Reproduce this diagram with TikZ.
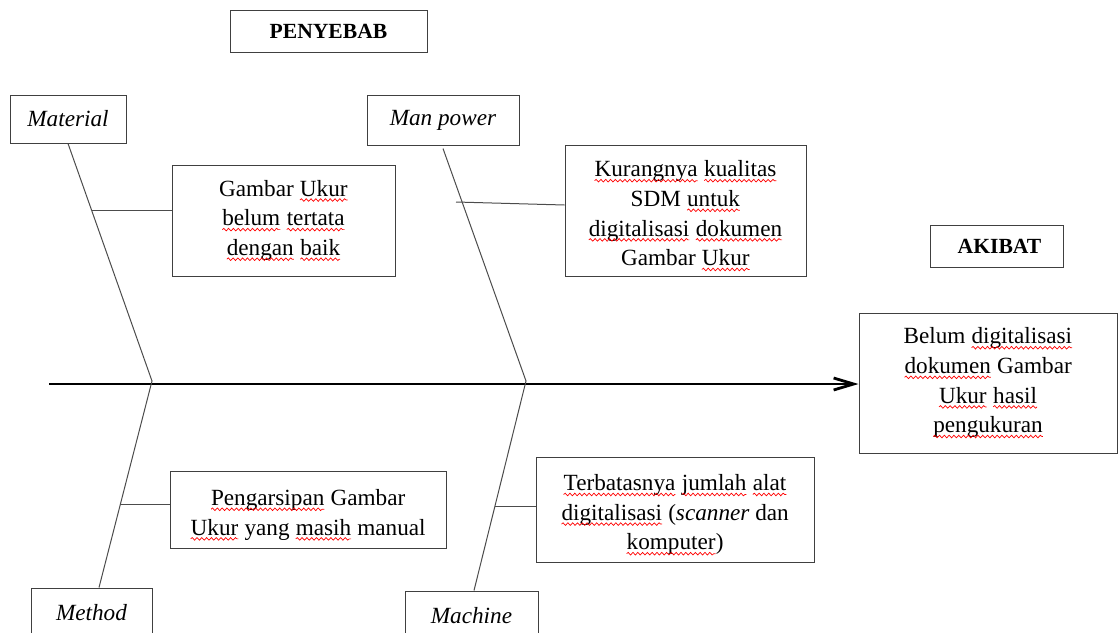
\documentclass[tikz,border=0pt]{standalone}
\usepackage{fontspec}
\setmainfont{Liberation Serif}
\usetikzlibrary{calc,positioning,arrows.meta,decorations.pathmorphing}

\newcommand{\sq}[1]{\tikz[baseline=(w.base)]{%
  \node[inner sep=0pt, outer sep=0pt, minimum size=0pt, draw=none, fill=none, anchor=base](w){#1};
  \draw[red, line width=0.35pt, decorate, decoration={snake, amplitude=0.65pt, segment length=2.4pt}]
    ([yshift=-1.9pt]w.base west) -- ([yshift=-1.9pt]w.base east);}}
\newcommand{\dn}{\rule{0pt}{13.5pt}}

\begin{document}
\begin{tikzpicture}[x=0.5pt, y=-0.5pt,
  box/.style={draw=black!75, line width=0.5pt, inner sep=0pt, align=center,
    font=\fontsize{11.6}{14.8}\selectfont},
  title/.style={box, font=\fontsize{10.8}{12}\selectfont\bfseries},
  bone/.style={draw=black!70, line width=0.5pt}]
  \useasboundingbox (0,0) rectangle (1118,632);

  \node[title, minimum width=98.5pt, minimum height=21pt](sebab) at (328.5,31){PENYEBAB};
  \node[title, minimum width=66.5pt, minimum height=21pt](akibat) at (996.5,246){\hspace{3pt}AKIBAT};

  \node[box, minimum width=58pt, minimum height=24pt](mat) at (68,119){\textit{Material}};
  \node[box, minimum width=76pt, minimum height=25pt](man) at (443,120){\textit{Man power}};
  \node[box, minimum width=60.5pt, minimum height=25pt](met) at (91.5,613){\textit{Method}};
  \node[box, minimum width=66.5pt, minimum height=25pt](mac) at (471.5,616){\textit{Machine}};

  \node[box, minimum width=111.5pt, minimum height=55.5pt](gam) at (283.5,220.5)
    {Gambar \sq{Ukur}\\ \sq{belum} \sq{tertata}\\ \sq{dengan} \sq{baik}};
  \node[box, minimum width=120.5pt, minimum height=65.5pt](kur) at (685.5,210.5)
    {\dn\sq{Kurangnya} \sq{kualitas}\\ SDM \sq{untuk}\\ \sq{digitalisasi} \sq{dokumen}\\ Gambar \sq{Ukur}};
  \node[box, minimum width=138pt, minimum height=38.5pt](pen) at (308,509.5)
    {\dn\sq{Pengarsipan} Gambar\\ \sq{Ukur} yang \sq{masih} manual};
  \node[box, minimum width=139pt, minimum height=52.5pt](ter) at (675,509.5)
    {\dn\sq{Terbatasnya} \sq{jumlah} \sq{alat}\\ \sq{digitalisasi} (\textit{scanner} dan\\ \sq{komputer})};
  \node[box, minimum width=129pt, minimum height=70pt](bel) at (988,383)
    {Belum \sq{digitalisasi}\\ \sq{dokumen} Gambar\\ \sq{Ukur} \sq{hasil}\\ \sq{pengukuran}};

  % spine
  \coordinate (tail) at (49,384);
  \coordinate (j1) at (152,381);
  \coordinate (j2) at (526,381);
  \draw[line width=1.4pt, -{Straight Barb[length=10pt, width=6pt]}] (tail) -- (tail -| bel.west);

  % bones
  \draw[bone] (mat.south) -- (j1) -- ([xshift=3.75pt]met.north);
  \draw[bone] ([yshift=-1.5pt]man.south) -- (j2) -- ([xshift=1.25pt]mac.north);

  % branches
  \coordinate (b1) at ($(mat.south)!0.283!(j1)$);
  \coordinate (b2) at (456,202);
  \coordinate (b3) at ($(j1)!0.6!([xshift=3.75pt]met.north)$);
  \coordinate (b4) at ($(j2)!0.6!([xshift=1.25pt]mac.north)$);
  \draw[bone] (b1) -- (b1 -| gam.west);
  \draw[bone] (b2) -- ([yshift=2.75pt]kur.west);
  \draw[bone] (b3) -- (b3 -| pen.west);
  \draw[bone] (b4) -- (b4 -| ter.west);
\end{tikzpicture}
\end{document}
